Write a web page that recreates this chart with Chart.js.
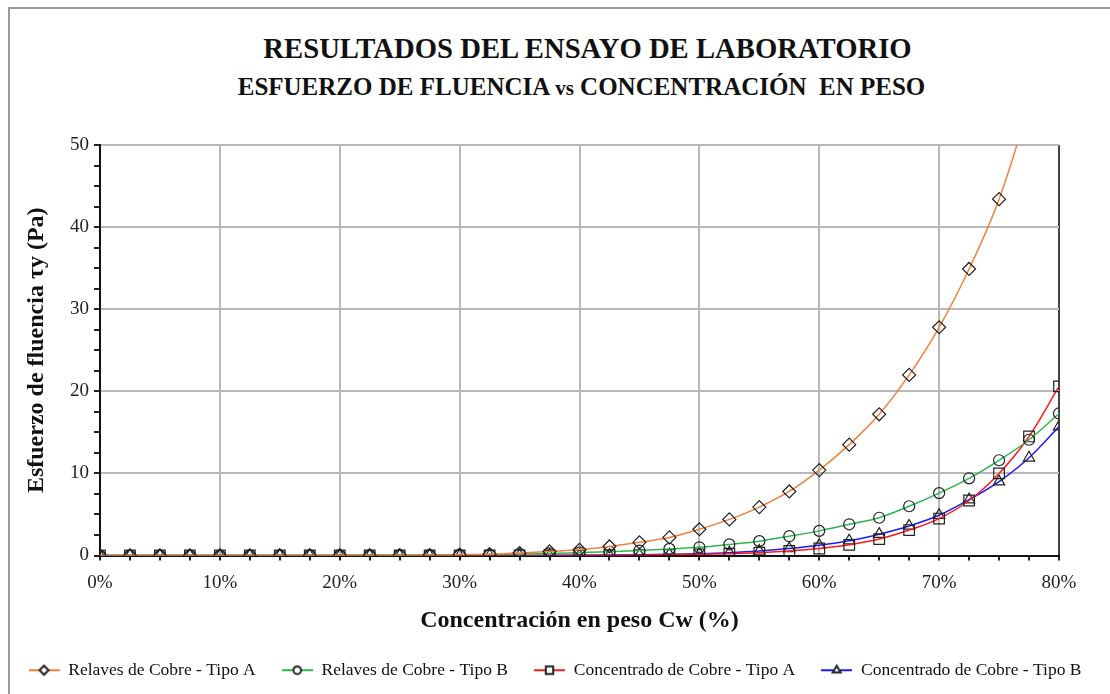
<!DOCTYPE html>
<html>
<head>
<meta charset="utf-8">
<script src="https://cdn.jsdelivr.net/npm/chart.js@4.4.1/dist/chart.umd.min.js"></script>
<style>
  html, body { margin: 0; padding: 0; background: #fff; }
  #wrap { position: relative; width: 1110px; height: 694px; overflow: hidden; }
  #frame { position: absolute; left: 8px; top: 7px; width: 1200px; height: 800px;
           border-left: 2px solid #9a9a9a; border-top: 2px solid #9a9a9a; }
  .ttl { position: absolute; left: 0; text-align: center; white-space: nowrap;
         font-family: "Liberation Serif", "Times New Roman", serif; font-weight: bold; color: #111; }
  #t1 { top: 32px; width: 1175px; font-size: 28.7px; }
  #t2 { top: 73px; width: 1163px; font-size: 25px; }
  canvas { position: absolute; left: 0; top: 0; }
</style>
</head>
<body>
<div id="wrap">
  <div id="frame"></div>
  <div class="ttl" id="t1">RESULTADOS DEL ENSAYO DE LABORATORIO</div>
  <div class="ttl" id="t2">ESFUERZO DE FLUENCIA <span style="font-size:21px">vs</span> CONCENTRACIÓN&nbsp; EN PESO</div>
  <canvas id="chart" width="1110" height="694"></canvas>
</div>
<script>
// concentracion en peso (%), every 2.5 %
const concentracion = [0, 2.5, 5, 7.5, 10, 12.5, 15, 17.5, 20, 22.5, 25, 27.5, 30, 32.5, 35, 37.5,
  40, 42.5, 45, 47.5, 50, 52.5, 55, 57.5, 60, 62.5, 65, 67.5, 70, 72.5, 75, 77.5, 80];

// esfuerzo de fluencia (Pa)
const relavesA = [0, 0, 0, 0, 0, 0, 0.01, 0.01, 0.02, 0.03, 0.04, 0.06, 0.1, 0.16, 0.3, 0.5,
  0.7, 1.1, 1.6, 2.2, 3.2, 4.4, 5.9, 7.8, 10.4, 13.5, 17.2, 22.0, 27.8, 34.9, 43.4, 55, 69];
const relavesB = [0, 0, 0, 0, 0, 0, 0, 0.01, 0.01, 0.02, 0.03, 0.04, 0.08, 0.12, 0.18, 0.25,
  0.35, 0.45, 0.6, 0.8, 1.0, 1.35, 1.75, 2.35, 3.0, 3.8, 4.6, 6.0, 7.6, 9.4, 11.6, 14.1, 17.3];
const concentradoA = [0, 0, 0, 0, 0, 0, 0, 0, 0, 0, 0, 0, 0, 0, 0, 0.01,
  0.02, 0.03, 0.05, 0.08, 0.14, 0.22, 0.35, 0.55, 0.85, 1.3, 2.0, 3.1, 4.5, 6.7, 10.0, 14.5, 20.6];
const concentradoB = [0, 0, 0, 0, 0, 0, 0, 0, 0, 0, 0, 0, 0, 0, 0.01, 0.02,
  0.03, 0.05, 0.08, 0.14, 0.22, 0.35, 0.55, 0.85, 1.25, 1.8, 2.6, 3.6, 4.9, 6.8, 9.0, 11.9, 15.7];

const nombres = ['Relaves de Cobre - Tipo A', 'Relaves de Cobre - Tipo B',
  'Concentrado de Cobre - Tipo A', 'Concentrado de Cobre - Tipo B'];
const series = [relavesA, relavesB, concentradoA, concentradoB];
const colores = ['#f0803c', '#2db54f', '#ff1a1a', '#1a1aff'];
const marcadores = ['rectRot', 'circle', 'rect', 'triangle'];
const radios = [6.5, 5.5, 7.5, 6.5];

const serif = '"Liberation Serif", "Times New Roman", serif';

// legend swatch: short line with the marker on top
function swatch(color, style, r) {
  const c = document.createElement('canvas');
  c.width = 31; c.height = 14;
  const g = c.getContext('2d');
  g.strokeStyle = color; g.lineWidth = 2;
  g.beginPath(); g.moveTo(0, 7); g.lineTo(31, 7); g.stroke();
  g.strokeStyle = '#222'; g.fillStyle = '#fff';
  Chart.helpers.drawPoint(g, { pointStyle: style, radius: r * 0.7, borderWidth: 1.2 }, 15.5, 7);
  return c;
}

const datasets = series.map((vals, i) => ({
  label: nombres[i],
  data: concentracion.map((x, j) => ({ x: x, y: vals[j] })),
  borderColor: colores[i],
  borderWidth: 1.5,
  backgroundColor: colores[i],
  pointStyle: marcadores[i],
  pointRadius: radios[i],
  pointBorderColor: '#222',
  pointBackgroundColor: 'rgba(0,0,0,0)',
  pointBorderWidth: 1.2,
  cubicInterpolationMode: 'monotone',
  legendStyle: swatch(colores[i], marcadores[i], radios[i])
}));

new Chart(document.getElementById('chart'), {
  type: 'line',
  data: { datasets: datasets },
  options: {
    responsive: false,
    animation: false,
    layout: { padding: { left: 0, right: 0, top: 145, bottom: 5 } },
    plugins: {
      legend: {
        position: 'bottom',
        labels: {
          usePointStyle: true,
          pointStyleWidth: 31,
          padding: 26,
          color: '#111',
          font: { family: serif, size: 17.5 },
          generateLabels: (chart) => chart.data.datasets.map((d, i) => ({
            text: d.label, pointStyle: d.legendStyle, fontColor: '#111',
            strokeStyle: d.borderColor, fillStyle: d.borderColor, lineWidth: 0, datasetIndex: i
          }))
        }
      },
      tooltip: { enabled: false }
    },
    scales: {
      x: {
        type: 'linear', min: 0, max: 80,
        afterFit: (s) => { s.height = 80; },
        ticks: {
          stepSize: 2.5, autoSkip: false, maxRotation: 0,
          color: '#222', font: { family: serif, size: 19 }, padding: 11,
          callback: (v) => (v % 10 === 0 ? v + '%' : '')
        },
        grid: {
          color: (c) => (c.tick && c.tick.value === 80 ? '#444' : (c.tick && c.tick.value % 10 === 0 ? '#b8b8b8' : 'rgba(0,0,0,0)')),
          lineWidth: 2, tickColor: '#222', tickLength: 5
        },
        border: { color: '#111', width: 2 },
        title: { display: true, text: 'Concentración en peso Cw (%)', color: '#111',
                 font: { family: serif, size: 24, weight: 'bold' }, padding: { top: 0, bottom: 0 } }
      },
      y: {
        min: 0, max: 50,
        afterFit: (s) => { s.width = 100; },
        ticks: {
          stepSize: 2.5, autoSkip: false, color: '#222', font: { family: serif, size: 19 }, padding: 5,
          callback: (v) => (v % 10 === 0 ? v : '')
        },
        grid: {
          color: (c) => (c.tick && c.tick.value % 10 === 0 ? '#b8b8b8' : 'rgba(0,0,0,0)'),
          lineWidth: 2, tickColor: '#222', tickLength: 6
        },
        border: { color: '#111', width: 2 },
        title: { display: true, text: 'Esfuerzo de fluencia τy (Pa)', color: '#111',
                 font: { family: serif, size: 24, weight: 'bold' }, padding: { top: 22, bottom: 0 } }
      },
      // empty right-hand axis, only reserves the space right of the plot
      derecha: {
        position: 'right', min: 0, max: 50,
        afterFit: (s) => { s.width = 51; },
        ticks: { display: false },
        grid: { display: false },
        border: { display: false }
      }
    }
  }
});
</script>
</body>
</html>
